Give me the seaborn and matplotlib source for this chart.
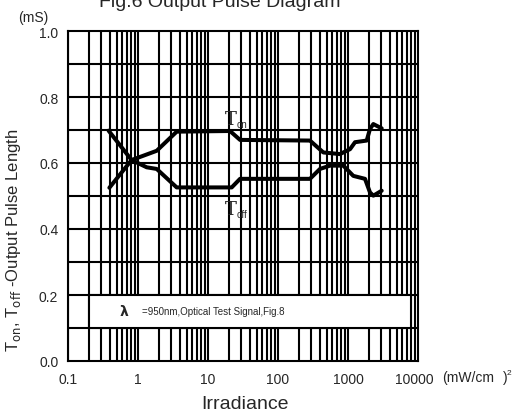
import numpy as np
import pandas as pd
import matplotlib
matplotlib.use("Agg")
import matplotlib.pyplot as plt
import matplotlib.transforms as mtrans
import seaborn as sns
from matplotlib.patches import Rectangle

# ---- data ----
ton_x = [0.39, 0.81, 1.19, 1.85, 3.57, 20.6, 28.7, 286, 444, 768, 1070, 1260, 1850, 2060, 2300, 3030]
ton_y = [0.525, 0.609, 0.622, 0.637, 0.695, 0.697, 0.670, 0.668, 0.632, 0.627, 0.642, 0.663, 0.668, 0.703, 0.718, 0.705]
toff_x = [0.38, 0.81, 1.33, 1.85, 3.57, 21.8, 28.7, 286, 398, 553, 857, 1190, 1750, 2060, 2300, 3030]
toff_y = [0.698, 0.609, 0.587, 0.582, 0.526, 0.526, 0.552, 0.552, 0.582, 0.592, 0.592, 0.561, 0.552, 0.511, 0.501, 0.516]
x_ticks = [0.1, 1, 10, 100, 1000, 10000]
x_tick_labels = ["0.1", "1", "10", "100", "1000", "10000"]
y_ticks = [0.0, 0.2, 0.4, 0.6, 0.8, 1.0]
y_tick_labels = ["0.0", "0.2", "0.4", "0.6", "0.8", "1.0"]

df = pd.concat([
    pd.DataFrame({"x": ton_x, "y": ton_y, "s": "Ton"}),
    pd.DataFrame({"x": toff_x, "y": toff_y, "s": "Toff"}),
])

sns.set_style("white")
plt.rcParams["font.family"] = ["Liberation Sans", "DejaVu Sans"]

fig = plt.figure(figsize=(5.12, 4.14), dpi=100)
ax = fig.add_axes([68/512, 1-362/414, 350/512, 330/414])

sns.lineplot(data=df, x="x", y="y", hue="s", palette=["black", "black"],
             sort=False, estimator=None, legend=False, linewidth=2.9, ax=ax, zorder=5)

ax.set_xscale("log")
ax.set_xlim(0.1, 10000)
ax.set_ylim(0, 1.0)

# grid
for d in [0.1, 1, 10, 100, 1000]:
    for k in range(1, 10):
        ax.axvline(d*k, color="black", lw=1.5, zorder=1)
for yv in np.arange(0.1, 1.0, 0.1):
    ax.axhline(yv, color="black", lw=1.5, zorder=1)

# note box
ax.add_patch(Rectangle((0.2, 0.1), 8000-0.2, 0.1, facecolor="white", edgecolor="black",
                       lw=1.5, zorder=2))
ax.text(0.553, 0.15, "λ", fontsize=10, va="center", ha="left", zorder=3,
        family=["DejaVu Sans"], fontweight="bold")
ax.text(1.14, 0.15, "=950nm,Optical Test Signal,Fig.8", fontsize=7, va="center",
        ha="left", zorder=3)

ax.set_xticks(x_ticks)
ax.set_xticklabels(x_tick_labels, fontsize=10)
ax.set_yticks(y_ticks)
ax.set_yticklabels(y_tick_labels, fontsize=10)
ax.minorticks_off()
ax.tick_params(axis="x", length=0, pad=8)
ax.tick_params(axis="y", length=0, pad=7)
lbl = ax.get_xticklabels()[-1]
lbl.set_transform(lbl.get_transform() + mtrans.ScaledTranslation(-4/100, 0, fig.dpi_scale_trans))
for sp in ax.spines.values():
    sp.set_color("black")
    sp.set_linewidth(1.5)
ax.set_xlabel("")
ax.set_ylabel("")

# texts
fig.text(220/512, 1-7/414, "Fig.6 Output Pulse Diagram", fontsize=14, ha="center",
         va="baseline")
fig.text(33/512, 1-22/414, "(mS)", fontsize=10, ha="center", va="baseline")
fig.text(245/512, 1-409/414, "Irradiance", fontsize=14, ha="center", va="baseline")
fig.text(442/512, 1-382/414, "(mW/cm", fontsize=10, ha="left", va="baseline")
fig.text(503/512, 1-382/414, ")", fontsize=10, ha="left", va="baseline")
fig.text(507/512, 1-375/414, "2", fontsize=6, ha="left", va="baseline")
fig.text(14/512, 1-240/414, r"T$_{\mathrm{on}}$, T$_{\mathrm{off}}$ -Output Pulse Length",
         fontsize=12, rotation=90, ha="center", va="center")

ax.text(17.5, 0.718, "T", fontsize=13, family=["DejaVu Serif"], ha="left",
        va="baseline", zorder=6)
ax.text(25.5, 0.708, "on", fontsize=7, ha="left", va="baseline", zorder=6)
ax.text(17.5, 0.445, "T", fontsize=13, family=["DejaVu Serif"], ha="left",
        va="baseline", zorder=6)
ax.text(25.5, 0.435, "off", fontsize=7, ha="left", va="baseline", zorder=6)

fig.savefig("out.png", dpi=100)
